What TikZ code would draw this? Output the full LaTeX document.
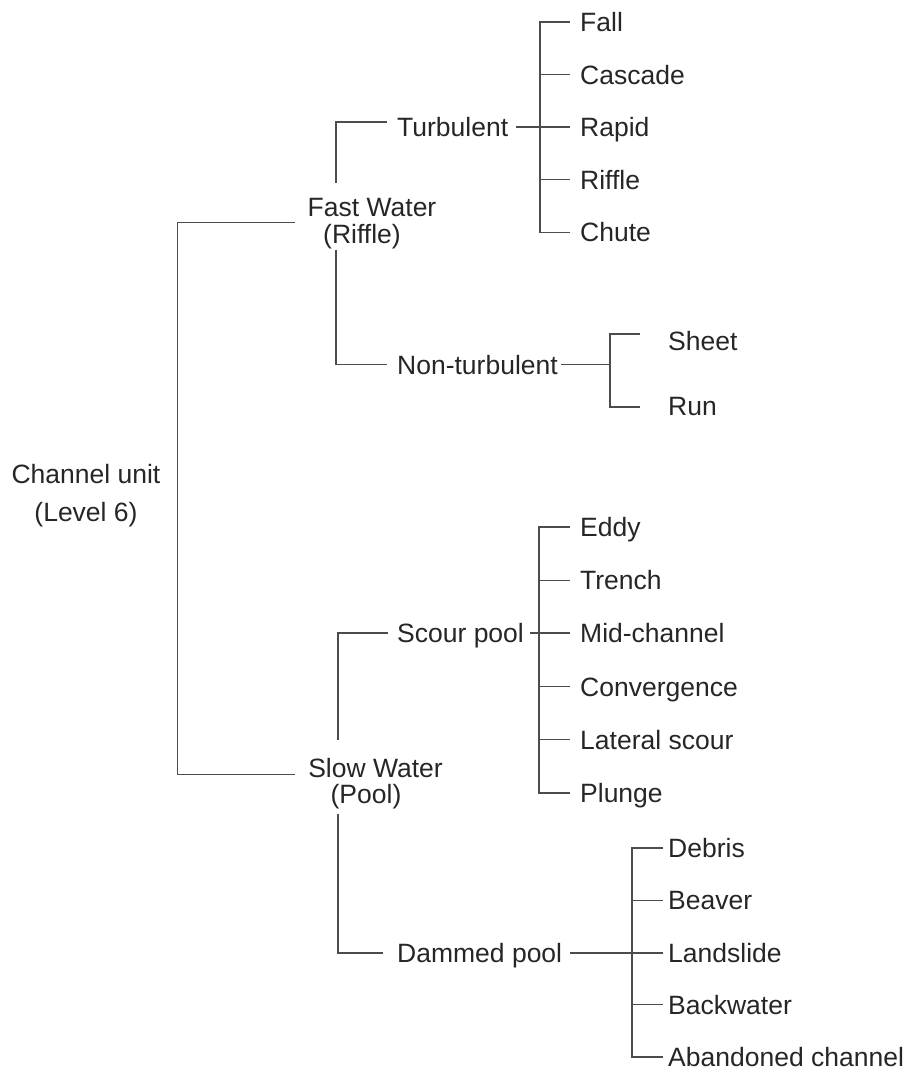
\documentclass[tikz,border=0pt]{standalone}
\usepackage{fontspec}
\setmainfont{Liberation Sans}
\usetikzlibrary{calc}
\begin{document}
\begin{tikzpicture}[x=1pt,y=-1pt,
  every node/.style={inner sep=0pt, text=black!85},
  lf/.style={font=\fontsize{26.5}{27}\selectfont, text height=19pt, text depth=0pt, anchor=west},
  grp/.style={font=\fontsize{26.5}{27.5}\selectfont, align=center, anchor=north},
  ln/.style={draw=black!70, line width=1.1pt}]
\useasboundingbox (0,0) rectangle (910,1072);

% groups
\node[grp, font=\fontsize{26.5}{38}\selectfont] (root) at (86,464) {Channel unit\\(Level 6)};
\node[grp] (fast) at (372,198) {Fast Water\\(Riffle)\hspace*{20pt}};
\node[grp, font=\fontsize{26.5}{26.5}\selectfont] (slow) at (375.5,758) {Slow Water\\(Pool)\hspace*{19pt}};

% second level
\node[lf] (turb) at (397,127) {Turbulent};
\node[lf] (nonturb) at (397,364.5) {Non-turbulent};
\node[lf] (scour) at (397,633) {Scour pool};
\node[lf] (dammed) at (397,953) {Dammed pool};

% turbulent children
\node[lf] (fall) at (580,22) {Fall};
\node[lf] (cascade) at (580,74.6) {Cascade};
\node[lf] (rapid) at (580,127) {Rapid};
\node[lf] (riffle) at (580,179.8) {Riffle};
\node[lf] (chute) at (580,232.4) {Chute};

% non-turbulent children
\node[lf] (sheet) at (668,340.5) {Sheet};
\node[lf] (run) at (668,406) {Run};

% scour pool children
\node[lf] (eddy) at (580,527) {Eddy};
\node[lf] (trench) at (580,580.2) {Trench};
\node[lf] (midch) at (580,633) {Mid-channel};
\node[lf] (conv) at (580,686.6) {Convergence};
\node[lf] (lat) at (580,739.8) {Lateral scour};
\node[lf] (plunge) at (580,793) {Plunge};

% dammed pool children
\node[lf] (debris) at (668,848) {Debris};
\node[lf] (beaver) at (668,900.3) {Beaver};
\node[lf] (landslide) at (668,953) {Landslide};
\node[lf] (backwater) at (668,1004.8) {Backwater};
\node[lf] (aband) at (668,1057) {Abandoned channel};

% root bracket
\draw[ln] ($(fast.west)+(-13,-1)$) -| ($(root.east)+(17,0)$) |- ($(slow.west)+(-13,-9)$);

% fast water
\draw[ln] ($(fast.north)+(-36,-15)$) |- ($(turb.west)+(-10,-5)$);
\draw[ln] ($(fast.south)+(-36,0)$) |- ($(nonturb.west)+(-10,0)$);

% turbulent bracket
\draw[ln] ($(turb.east)+(8,0)$) -- ($(rapid.west)+(-40,0)$);
\draw[ln] ($(fall.west)+(-10,0)$) -- ++(-30,0) |- ($(chute.west)+(-10,0)$);
\foreach \n in {cascade,rapid,riffle} \draw[ln] ($(\n.west)+(-10,0)$) -- ++(-30,0);

% non-turbulent bracket
\draw[ln] ($(nonturb.east)+(3,0)$) -- ($(nonturb.east -| sheet.west)+(-58,0)$);
\draw[ln] ($(sheet.west)+(-28,-6.5)$) -- ++(-30,0) |- ($(run.west)+(-28,1)$);

% slow water
\draw[ln] ($(slow.north)+(-37.5,-18)$) |- ($(scour.west)+(-9,0)$);
\draw[ln] ($(slow.south)+(-37.5,4)$) |- ($(dammed.west)+(-14,0)$);

% scour bracket
\draw[ln] ($(scour.east)+(6,0)$) -- ($(midch.west)+(-41,0)$);
\draw[ln] ($(eddy.west)+(-10,0)$) -- ++(-31,0) |- ($(plunge.west)+(-10,0)$);
\foreach \n in {trench,midch,conv,lat} \draw[ln] ($(\n.west)+(-10,0)$) -- ++(-31,0);

% dammed bracket
\draw[ln] ($(dammed.east)+(8,0)$) -- ($(landslide.west)+(-36,0)$);
\draw[ln] ($(debris.west)+(-5,0)$) -- ++(-31,0) |- ($(aband.west)+(-5,0)$);
\foreach \n in {beaver,landslide,backwater} \draw[ln] ($(\n.west)+(-5,0)$) -- ++(-31,0);
\end{tikzpicture}
\end{document}
